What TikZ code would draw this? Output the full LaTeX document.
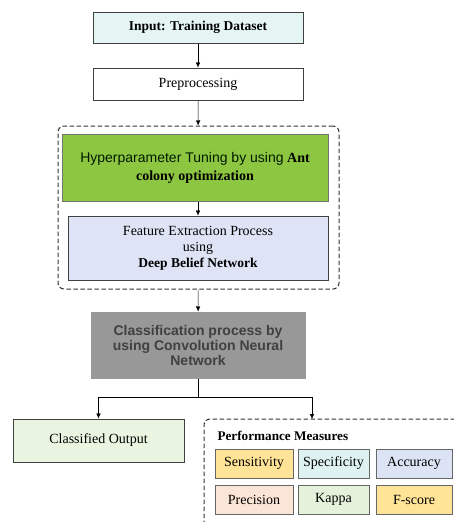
\documentclass[tikz,border=0pt]{standalone}
\usepackage{fontspec}
\setmainfont{Liberation Serif}
\newfontfamily\arialfont{Liberation Sans}
\usetikzlibrary{arrows.meta}

\definecolor{inputcyan}{RGB}{229,245,244}
\definecolor{acogreen}{RGB}{141,199,66}
\definecolor{dbnblue}{RGB}{222,228,245}
\definecolor{cnngray}{RGB}{152,152,152}
\definecolor{outgreen}{RGB}{233,245,225}
\definecolor{mgold}{RGB}{255,227,150}
\definecolor{mcyan}{RGB}{222,243,241}
\definecolor{mblue}{RGB}{220,227,244}
\definecolor{mpeach}{RGB}{251,229,214}
\definecolor{mgreen}{RGB}{228,242,220}

\begin{document}
\begin{tikzpicture}[x=1pt, y=-1pt,
    >={Latex[length=5pt,width=4.5pt]},
    box/.style={draw=black!75, line width=1pt, align=center, inner sep=0pt,
        font=\fontsize{14}{16}\selectfont},
    measure/.style={draw=black!60, line width=0.8pt, inner sep=0pt,
        minimum height=29pt, font=\fontsize{14}{16}\selectfont},
    group/.style={draw=black!80, line width=1pt, dash pattern=on 4.5pt off 2.5pt,
        rounded corners=6pt}]
    \useasboundingbox (0,0) rectangle (454,522);
    \clip (0,0) rectangle (454,522);

    % Input and preprocessing
    \node[box, fill=inputcyan, minimum width=210pt, minimum height=31pt] (inp) at (198,27.5)
        {\fontsize{13.5}{16}\selectfont\bfseries Input: Training Dataset};
    \node[box, minimum width=210pt, minimum height=32pt] (pre) at (198,84) {Preprocessing};

    % Dashed group: ACO tuning + DBN features
    \node[group, minimum width=281pt, minimum height=163pt] (tuning) at (198.5,207.5) {};
    \node[box, fill=acogreen, draw=black!55, minimum width=266pt, minimum height=67pt,
        font=\fontsize{14}{18}\selectfont] (aco) at (195,167.5)
        {{\arialfont\color{black!75!green!40!black}Hyperparameter Tuning by using} \textbf{Ant}\\
         \textbf{colony optimization}};
    \node[box, fill=dbnblue, minimum width=260pt, minimum height=64pt] (dbn) at (198,248)
        {Feature Extraction Process\\using\\
         {\fontsize{13.5}{15}\selectfont\bfseries Deep Belief Network}};

    % Classification
    \node[box, fill=cnngray, draw=black!40, minimum width=214pt, minimum height=66pt,
        font=\arialfont\bfseries\fontsize{14}{15}\selectfont, text=black!75] (cnn) at (198,345)
        {Classification process by\\using Convolution Neural\\Network};
    \node[box, fill=outgreen, minimum width=171pt, minimum height=43pt] (out) at (98.5,440.5)
        {Classified Output};

    % Performance measures (runs off the page)
    \draw[group] (204,560) |- (480,419);
    \coordinate (perf) at (312,419);
    \node[anchor=west, font=\fontsize{13.2}{16}\selectfont\bfseries] (ptitle) at (214,436)
        {Performance Measures};
    \foreach \name/\txt/\col/\x/\w/\y in {
        sens/Sensitivity/mgold/254/78/463.5,
        spec/Specificity/mcyan/333.5/71/463.5,
        acc/Accuracy/mblue/414/76/463.5,
        prec/Precision/mpeach/254/78/499.5,
        kap/Kappa/mgreen/333.5/71/499.5,
        fsc/F-score/mgold/414/76/499.5} {
        \node[measure, fill=\col, minimum width=\w pt] (\name) at (\x,\y) {\txt};
    }

    % Connectors
    \draw[->] (inp) -- (pre);
    \draw[->] (pre) -- (tuning);
    \draw[->] (aco.south -| pre) -- (dbn.north -| pre);
    \draw[->] (tuning) -- (cnn);
    \draw (cnn.south) -- ++(0,19) coordinate (split);
    \draw[->] (split) -| (out.north);
    \draw[->] (split) -| (perf);
\end{tikzpicture}
\end{document}
